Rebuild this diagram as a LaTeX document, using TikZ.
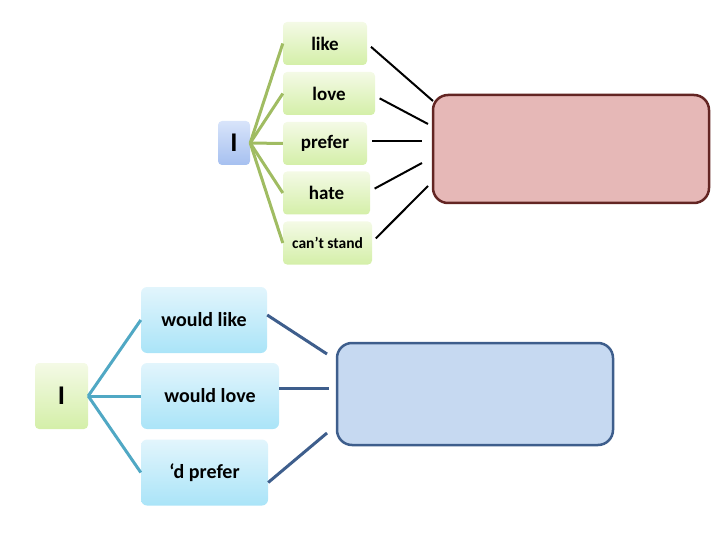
\documentclass[tikz,border=0pt]{standalone}
\usepackage{fontspec}
\setmainfont{Carlito}
\usepackage{tikz}
\usetikzlibrary{arrows.meta, positioning}
\definecolor{greentop}{RGB}{244, 250, 230}
\definecolor{greenbot}{RGB}{212, 239, 168}
\definecolor{skytop}{RGB}{226, 245, 252}
\definecolor{skybot}{RGB}{170, 228, 248}
\definecolor{subjtop}{RGB}{216, 228, 250}
\definecolor{subjbot}{RGB}{166, 192, 240}
\definecolor{olive}{RGB}{160, 188, 98}
\definecolor{teal}{RGB}{80, 168, 196}
\definecolor{rosefill}{RGB}{230, 184, 183}
\definecolor{roseline}{RGB}{99, 37, 35}
\definecolor{navyfill}{RGB}{198, 217, 241}
\definecolor{navyline}{RGB}{62, 94, 140}

\begin{document}
\begin{tikzpicture}[
    x=1pt, y=-1pt,
    verb/.style={rounded corners=4pt, top color=greentop, bottom color=greenbot,
                 minimum width=#1, minimum height=43pt, inner sep=0pt,
                 font=\fontsize{19}{19}\selectfont\bfseries},
    verb/.default=84pt,
    wish/.style={rounded corners=6pt, top color=skytop, bottom color=skybot,
                 minimum width=#1, minimum height=66pt, inner sep=0pt,
                 font=\fontsize{20}{20}\selectfont\bfseries},
    wish/.default=126pt,
    subj/.style={rounded corners=4pt, font=\fontsize{27}{27}\selectfont\bfseries,
                 inner sep=0pt},
    answer/.style={rounded corners=15pt, line width=2.5pt},
    branch/.style={line width=3pt},
    link/.style={line width=2pt, shorten <=5pt}
]
\useasboundingbox (0,0) rectangle (720,540);
% Top tree
\node[subj, top color=subjtop, bottom color=subjbot,
      minimum width=32pt, minimum height=44pt] (s1) at (234,143) {I};
\node[verb] (v1) at (325,43.5) {like};
\node[verb=92pt] (v2) at (329,93.5) {love};
\node[verb] (v3) at (325,143.5) {prefer};
\node[verb=87pt] (v4) at (326.5,193) {hate};
\node[verb=89pt, font=\fontsize{15.5}{15.5}\selectfont\bfseries] (v5) at (327.5,243) {can’t stand};
\node[answer, draw=roseline, fill=rosefill,
      minimum width=276pt, minimum height=108pt] (r0) at (571,149) {};
\coordinate (r1) at (433,101);
\coordinate (r2) at (428,124);
\coordinate (r3) at (422,141);
\coordinate (r4) at (422,163);
\coordinate (r5) at (428,186);
% Bottom tree
\node[subj, top color=greentop, bottom color=greenbot,
      minimum width=53pt, minimum height=66pt] (s2) at (61.5,396) {I};
\node[wish] (w1) at (204,320) {would like};
\node[wish=138pt] (w2) at (210,396) {would love};
\node[wish=127pt] (w3) at (204.5,472.5) {‘d prefer};
\node[answer, draw=navyline, fill=navyfill,
      minimum width=276pt, minimum height=102pt] (b0) at (475,394) {};
\coordinate (b1) at (327,354);
\coordinate (b2) at (329,388);
\coordinate (b3) at (327,433);
% Branches
\foreach \i in {1,...,5}
    \draw[branch, olive] (s1.east) -- (v\i.west);
\foreach \i in {1,...,3}
    \draw[branch, teal] (s2.east) -- (w\i.west);
% Links to the answer boxes
\foreach \i/\dy in {1/0, 2/-2.5, 3/2.5, 4/2, 5/1}
    \draw[link, black] ([yshift=\dy pt]v\i.east) -- (r\i);
\foreach \i/\dy in {1/5, 2/8, 3/-10}
    \draw[link, navyline, line width=3pt, shorten <=0pt]
        ([yshift=\dy pt]w\i.east) -- (b\i);
\end{tikzpicture}
\end{document}
